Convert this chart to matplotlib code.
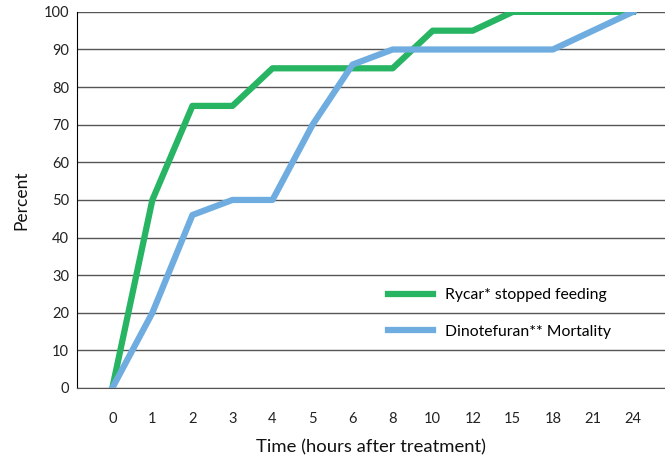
import matplotlib
matplotlib.use('Agg')
import matplotlib.pyplot as plt

# hours after treatment (shown as evenly spaced categories)
hours = ['0', '1', '2', '3', '4', '5', '6', '8', '10', '12', '15', '18', '21', '24']
rycar = [0, 50, 75, 75, 85, 85, 85, 85, 95, 95, 100, 100, 100, 100]
dinotefuran = [0, 20, 46, 50, 50, 70, 86, 90, 90, 90, 90, 90, 95, 100]

plt.rcParams['font.family'] = ['Lato', 'DejaVu Sans']

fig = plt.figure(figsize=(6.65, 4.57), dpi=100)
ax = fig.add_axes([0.1165, 0.151, 0.8835, 0.823])

x = list(range(len(hours)))
ax.plot(x, rycar, color='#27B463', lw=4.5, label='Rycar* stopped feeding', zorder=3)
ax.plot(x, dinotefuran, color='#6FADE0', lw=4.5, label='Dinotefuran** Mortality', zorder=3)

ax.set_xlim(-0.87, 13.8)
ax.set_ylim(0, 100)
ax.set_yticks(range(0, 101, 10))
ax.set_xticks(x)
ax.set_xticklabels(hours)
ax.yaxis.grid(True, color='#555555', lw=1)
ax.set_axisbelow(True)
for s in ['top', 'right']:
    ax.spines[s].set_visible(False)
ax.spines['bottom'].set_color('#555555')
ax.spines['left'].set_color('black')
ax.tick_params(length=0, labelsize=10.5, colors='#222222')
ax.tick_params(axis='x', pad=17)
ax.tick_params(axis='y', pad=6)

ax.set_xlabel('Time (hours after treatment)', fontsize=13.3, labelpad=10, color='#111111')
ax.set_ylabel('Percent', fontsize=12.5, labelpad=10, color='#111111')

ax.legend(loc='center left', bbox_to_anchor=(0.528, 0.198), frameon=False,
          fontsize=11.3, handlelength=2.9, handletextpad=0.75, labelspacing=1.45,
          borderpad=0, borderaxespad=0)

fig.savefig('out.png', dpi=100)
